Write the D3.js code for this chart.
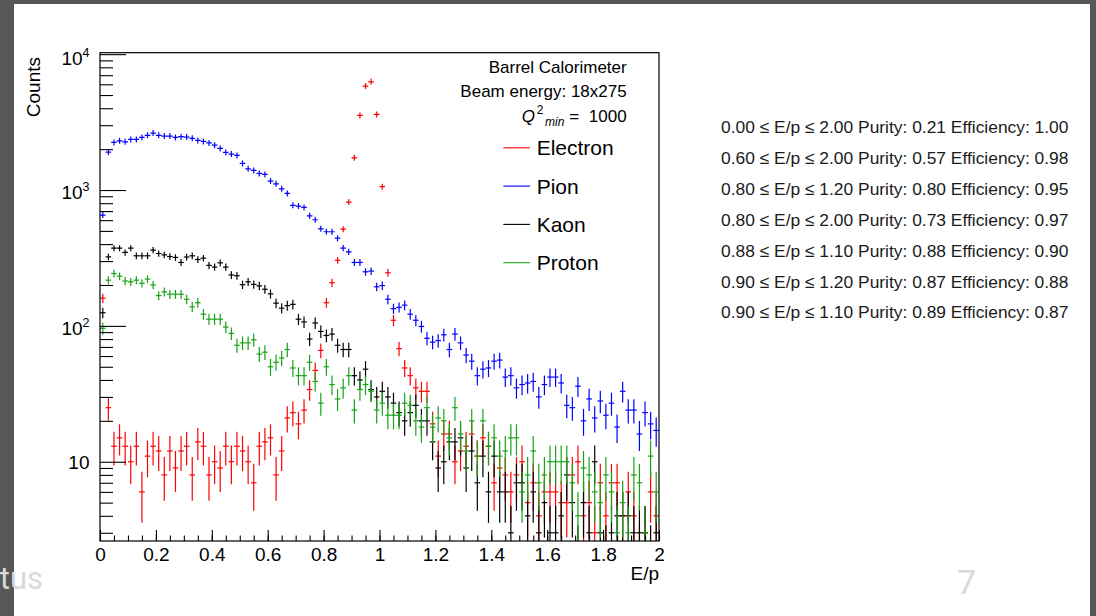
<!DOCTYPE html>
<html>
<head>
<meta charset="utf-8">
<script src="https://cdn.jsdelivr.net/npm/d3@7"></script>
<style>
body { margin: 0; background: #fff; }
svg { display: block; font-family: "Liberation Sans", Arial, Helvetica, sans-serif; }
</style>
</head>
<body>
<div id="chart"></div>
<script>
// counts per bin, E/p from 0 to 2 in bins of 0.02
const electron = [160, 25, 13, 15, 13, 10, 13, 6, 11, 13,
    12, 8, 12, 9, 12, 13, 8, 14, 13, 8,
    10, 9, 13, 10, 13, 12, 10, 7, 13, 14,
    15, 8, 12, 21, 23, 19, 24, 34, 47, 66,
    148, 208, 304, 515, 815, 1726, 3540, 5820, 6260, 3600,
    1058, 246, 110, 68, 49, 43, 35, 33, 33, 19,
    11, 16, 16, 10, 12, 13, 16, 11, 15, 13,
    7, 9, 8, 6, 8, 10, 5, 7, 4, 6,
    6, 6, 5, 5, 8, 10, 4, 5, 3, 7,
    4, 7, 7, 4, 6, 4, 2, 3, 6, 4];
const pion = [654, 1900, 2240, 2300, 2265, 2357, 2357, 2440, 2525, 2625,
    2525, 2495, 2495, 2440, 2470, 2455, 2400, 2318, 2280, 2223,
    2138, 2023, 1891, 1838, 1797, 1570, 1433, 1394, 1325, 1302,
    1163, 1111, 1021, 944, 771, 762, 745, 646, 604, 518,
    493, 493, 442, 374, 351, 293, 293, 250, 253, 194,
    198, 157, 134, 137, 142, 122, 110, 99, 81, 76,
    78, 86, 67, 87, 75, 61, 55, 43, 48, 49,
    55, 56, 42, 43, 35, 37, 38, 39, 30, 37,
    42, 42, 38, 26, 25, 36, 20, 29, 21, 28,
    22, 27, 18, 33, 24, 24, 16, 23, 19, 17];
const kaon = [125, 322, 373, 373, 347, 373, 328, 328, 328, 361,
    341, 333, 324, 319, 293, 321, 328, 308, 315, 279,
    271, 291, 271, 237, 234, 201, 211, 202, 197, 186,
    172, 147, 135, 141, 144, 112, 107, 80, 105, 91,
    85, 87, 72, 67, 67, 43, 40, 48, 34, 30,
    33, 30, 27, 23, 20, 23, 26, 20, 20, 14,
    9, 10, 14, 14, 15, 9, 12, 7, 11, 6,
    11, 6, 6, 3, 7, 7, 4, 6, 3, 5,
    3, 3, 4, 8, 5, 2, 5, 3, 10, 3,
    2, 3, 4, 4, 4, 3, 3, 3, 2, 3];
const proton = [96, 217, 243, 232, 214, 211, 217, 206, 221, 200,
    167, 178, 171, 171, 171, 157, 138, 148, 122, 112,
    112, 112, 98, 88, 72, 75, 75, 79, 62, 64,
    50, 54, 58, 67, 49, 43, 43, 54, 39, 27,
    50, 37, 29, 35, 43, 24, 34, 37, 33, 24,
    27, 22, 22, 22, 27, 26, 20, 18, 25, 18,
    21, 20, 15, 25, 16, 12, 20, 11, 20, 13,
    15, 11, 12, 15, 15, 6, 8, 12, 7, 8,
    10, 10, 10, 10, 7, 4, 9, 8, 6, 5,
    8, 6, 3, 5, 3, 8, 7, 3, 11, 6];

const binWidth = 0.02;
const seriesNames = ["Electron", "Pion", "Kaon", "Proton"];
const seriesColors = ["#ff0000", "#0000ff", "#000000", "#16a316"];
const seriesData = [electron, pion, kaon, proton];

const xMajorTicks = [0, 0.2, 0.4, 0.6, 0.8, 1, 1.2, 1.4, 1.6, 1.8, 2];
const yMajorTicks = [10, 100, 1000, 10000];
const yMajorExp = ["", "2", "3", "4"];

const cutLow = ["0.00", "0.60", "0.80", "0.80", "0.88", "0.90", "0.90"];
const cutHigh = ["2.00", "2.00", "1.20", "2.00", "1.10", "1.20", "1.10"];
const purity = ["0.21", "0.57", "0.80", "0.73", "0.88", "0.87", "0.89"];
const efficiency = ["1.00", "0.98", "0.95", "0.97", "0.90", "0.88", "0.87"];

const width = 1096;
const height = 616;
const frame = {left: 100, right: 659, top: 52.7, bottom: 541};

let svg = d3.select("#chart").append("svg")
    .attr("width", width)
    .attr("height", height);

// slide background and dark edges
svg.append("rect").attr("width", width).attr("height", height).attr("fill", "#fff");
svg.append("rect").attr("x", 0).attr("y", 0).attr("width", 14).attr("height", height).attr("fill", "#575757");
svg.append("rect").attr("x", 0).attr("y", 0).attr("width", width).attr("height", 4).attr("fill", "#575757");
svg.append("rect").attr("x", 1090).attr("y", 0).attr("width", 6).attr("height", height).attr("fill", "#575757");

let xScale = d3.scaleLinear()
    .domain([0, 2])
    .range([frame.left, frame.right]);

let yScale = d3.scaleLog()
    .domain([2.61, 10250])
    .range([frame.bottom, frame.top])
    .clamp(true);

svg.append("clipPath").attr("id", "plotclip")
    .append("rect")
    .attr("x", frame.left)
    .attr("y", frame.top)
    .attr("width", frame.right - frame.left)
    .attr("height", frame.bottom - frame.top);

// histograms with error bars
let marks = svg.append("g").attr("clip-path", "url(#plotclip)");

seriesData.forEach((counts, s) => {
    let bins = counts.map((n, i) => ({n: n, lo: i * binWidth, hi: (i + 1) * binWidth}))
        .filter(d => d.n > 0);
    let g = marks.append("g")
        .attr("stroke", seriesColors[s])
        .attr("stroke-width", 1.2)
        .attr("fill", "none");

    g.selectAll("line.h")
        .data(bins.filter(d => d.n >= 2.61))
        .enter()
        .append("line")
        .attr("class", "h")
        .attr("x1", d => xScale(d.lo))
        .attr("x2", d => xScale(d.hi))
        .attr("y1", d => yScale(d.n))
        .attr("y2", d => yScale(d.n));

    g.selectAll("line.v")
        .data(bins)
        .enter()
        .append("line")
        .attr("class", "v")
        .attr("x1", d => xScale((d.lo + d.hi) / 2))
        .attr("x2", d => xScale((d.lo + d.hi) / 2))
        .attr("y1", d => Math.max(yScale(Math.max(d.n - Math.sqrt(d.n), 0.5)), yScale(d.n) + 3))
        .attr("y2", d => Math.min(yScale(d.n + Math.sqrt(d.n)), yScale(d.n) - 3));
});

// frame
svg.append("rect")
    .attr("x", frame.left)
    .attr("y", frame.top)
    .attr("width", frame.right - frame.left)
    .attr("height", frame.bottom - frame.top)
    .attr("fill", "none")
    .attr("stroke", "#000")
    .attr("stroke-width", 1.2);

// x axis (ROOT style ticks pointing inward)
let xMinorAxis = svg.append("g")
    .attr("transform", "translate(0," + frame.bottom + ")");
xMinorAxis.call(d3.axisBottom(xScale)
    .tickValues(d3.range(0, 2.001, 0.05))
    .tickSize(-5.5)
    .tickFormat(""));

let xAxis = svg.append("g")
    .attr("transform", "translate(0," + frame.bottom + ")");
xAxis.call(d3.axisBottom(xScale)
    .tickValues(xMajorTicks)
    .tickSize(-11)
    .tickPadding(7)
    .tickFormat(d3.format("~g")));

[xMinorAxis, xAxis].forEach(a => {
    a.selectAll(".domain").remove();
    a.selectAll("line").attr("stroke", "#000").attr("stroke-width", 1.1);
});
xAxis.selectAll("text")
    .attr("fill", "#000")
    .style("font-size", "19px")
    .style("font-family", "Liberation Sans, Arial, sans-serif");

svg.append("text")
    .attr("x", frame.right)
    .attr("y", 580)
    .attr("text-anchor", "end")
    .style("font-size", "19px")
    .text("E/p");

// y axis, log
let yMinor = [];
[1, 10, 100, 1000].forEach(dec => {
    for (let k = 2; k <= 9; k++) {
        if (k * dec >= 2.61) yMinor.push(k * dec);
    }
});
let yMinorAxis = svg.append("g")
    .attr("transform", "translate(" + frame.left + ",0)");
yMinorAxis.call(d3.axisLeft(yScale)
    .tickValues(yMinor)
    .tickSize(-13)
    .tickFormat(""));

let yAxis = svg.append("g")
    .attr("transform", "translate(" + frame.left + ",0)");
yAxis.call(d3.axisLeft(yScale)
    .tickValues(yMajorTicks)
    .tickSize(-26)
    .tickFormat(""));

[yMinorAxis, yAxis].forEach(a => {
    a.selectAll(".domain").remove();
    a.selectAll("line").attr("stroke", "#000").attr("stroke-width", 1.1);
});

yMajorTicks.forEach((v, i) => {
    let ty = yScale(v);
    let t = svg.append("text")
        .attr("x", 89.5)
        .attr("text-anchor", "end")
        .style("font-size", "19px")
        .attr("fill", "#000");
    if (yMajorExp[i] === "") {
        t.attr("y", ty + 6.8).text("10");
    } else {
        t.attr("y", Math.max(ty + 9, frame.top + 12.3));
        t.append("tspan").text("10");
        t.append("tspan")
            .attr("dy", -8)
            .style("font-size", "12.5px")
            .text(yMajorExp[i]);
    }
});

svg.append("text")
    .attr("transform", "translate(39.5,57) rotate(-90)")
    .attr("text-anchor", "end")
    .style("font-size", "19px")
    .text("Counts");

// legend header
svg.append("text")
    .attr("x", 626.7).attr("y", 72.7)
    .attr("text-anchor", "end")
    .style("font-size", "17px")
    .text("Barrel Calorimeter");
svg.append("text")
    .attr("x", 626.7).attr("y", 96.5)
    .attr("text-anchor", "end")
    .style("font-size", "17px")
    .text("Beam energy: 18x275");
svg.append("text")
    .attr("x", 521.7).attr("y", 122.3)
    .style("font-size", "17px")
    .style("font-style", "italic")
    .text("Q");
svg.append("text")
    .attr("x", 536.7).attr("y", 114)
    .style("font-size", "12px")
    .text("2");
svg.append("text")
    .attr("x", 545).attr("y", 125.5)
    .style("font-size", "12px")
    .style("font-style", "italic")
    .text("min");
svg.append("text")
    .attr("x", 626.7).attr("y", 122.3)
    .attr("text-anchor", "end")
    .style("font-size", "17px")
    .style("word-spacing", "5px")
    .text("= 1000");

// legend entries
seriesNames.forEach((name, i) => {
    let by = 155.3 + i * 38.3;
    svg.append("line")
        .attr("x1", 503.3).attr("x2", 530)
        .attr("y1", by - 7.5).attr("y2", by - 7.5)
        .attr("stroke", seriesColors[i])
        .attr("stroke-width", 1.1);
    svg.append("text")
        .attr("x", 536.7).attr("y", by)
        .style("font-size", "21px")
        .text(name);
});

// purity / efficiency lines
cutLow.forEach((lo, i) => {
    svg.append("text")
        .attr("x", 721)
        .attr("y", 133.3 + i * 30.85)
        .style("font-size", "17.4px")
        .attr("fill", "#1a1a1a")
        .text(`${lo} \u2264 E/p \u2264 ${cutHigh[i]} Purity: ${purity[i]} Efficiency: ${efficiency[i]}`);
});

// slide decorations
svg.append("text")
    .attr("x", 43).attr("y", 589)
    .attr("text-anchor", "end")
    .style("font-family", "Roboto, sans-serif")
    .style("font-size", "31px")
    .attr("fill", "#d9d9d9")
    .text("tus");
svg.append("text")
    .attr("x", 957).attr("y", 594)
    .style("font-family", "Roboto, sans-serif")
    .style("font-size", "34px")
    .attr("fill", "#d9d9d9")
    .text("7");
</script>
</body>
</html>
